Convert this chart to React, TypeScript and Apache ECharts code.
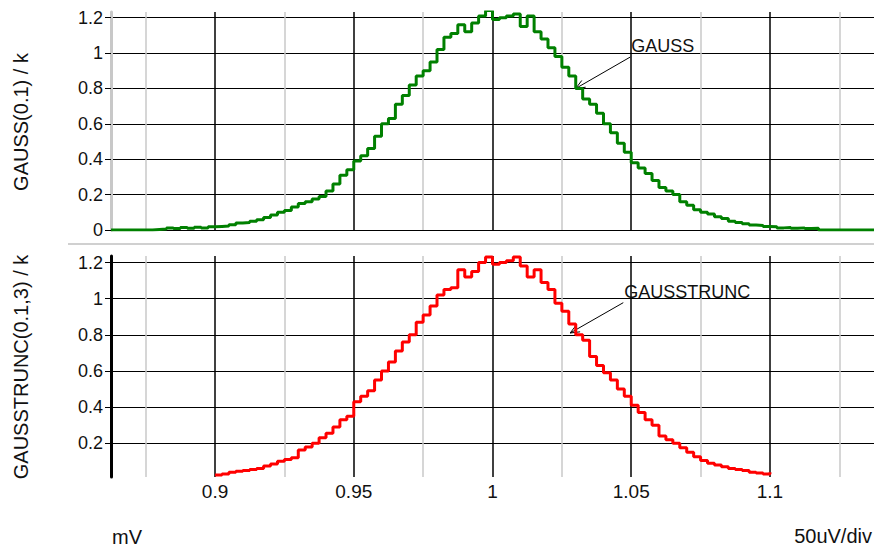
import React, { useEffect, useRef } from "react";
import * as echarts from "echarts";

// Histogram bin left edges (mV)
const binEdges = [
  0.8625, 0.865, 0.8675, 0.87, 0.8725, 0.875, 0.8775, 0.88, 0.8825, 0.885,
  0.8875, 0.89, 0.8925, 0.895, 0.8975, 0.9, 0.9025, 0.905, 0.9075, 0.91,
  0.9125, 0.915, 0.9175, 0.92, 0.9225, 0.925, 0.9275, 0.93, 0.9325, 0.935,
  0.9375, 0.94, 0.9425, 0.945, 0.9475, 0.95, 0.9525, 0.955, 0.9575, 0.96,
  0.9625, 0.965, 0.9675, 0.97, 0.9725, 0.975, 0.9775, 0.98, 0.9825, 0.985,
  0.9875, 0.99, 0.9925, 0.995, 0.9975, 1, 1.0025, 1.005, 1.0075, 1.01,
  1.0125, 1.015, 1.0175, 1.02, 1.0225, 1.025, 1.0275, 1.03, 1.0325, 1.035,
  1.0375, 1.04, 1.0425, 1.045, 1.0475, 1.05, 1.0525, 1.055, 1.0575, 1.06,
  1.0625, 1.065, 1.0675, 1.07, 1.0725, 1.075, 1.0775, 1.08, 1.0825, 1.085,
  1.0875, 1.09, 1.0925, 1.095, 1.0975, 1.1, 1.1025, 1.105, 1.1075, 1.11,
  1.1125, 1.115, 1.1175, 1.12, 1.1225, 1.125, 1.1275, 1.13, 1.1325, 1.135,
  1.1375,
];

// GAUSS(0.1) counts (k)
const gaussCounts = [
  0, 0, 0, 0, 0, 0, 0.003, 0.006, 0.012, 0.008,
  0.014, 0.01, 0.016, 0.012, 0.018, 0.02, 0.022, 0.03, 0.04, 0.042,
  0.05, 0.058, 0.07, 0.085, 0.1, 0.11, 0.13, 0.15, 0.16, 0.175,
  0.19, 0.22, 0.26, 0.31, 0.34, 0.39, 0.42, 0.46, 0.53, 0.6,
  0.63, 0.71, 0.76, 0.82, 0.87, 0.9, 0.95, 1.02, 1.09, 1.11,
  1.16, 1.12, 1.17, 1.21, 1.24, 1.19, 1.2, 1.21, 1.22, 1.15,
  1.21, 1.12, 1.08, 1.03, 0.98, 0.92, 0.87, 0.8, 0.74, 0.71,
  0.66, 0.6, 0.55, 0.49, 0.44, 0.38, 0.35, 0.32, 0.28, 0.24,
  0.22, 0.2, 0.16, 0.14, 0.115, 0.1, 0.09, 0.075, 0.065, 0.05,
  0.042, 0.035, 0.028, 0.025, 0.02, 0.018, 0.012, 0.014, 0.01, 0.012,
  0.008, 0.01, 0, 0, 0, 0, 0, 0, 0, 0,
  0,
];

// GAUSSTRUNC(0.1,3) counts (k), null outside the truncation range
const gaussTruncCounts = [
  null, null, null, null, null, null, null, null, null, null,
  null, null, null, null, null,
  0.025, 0.03, 0.04, 0.045, 0.05, 0.055, 0.06, 0.075, 0.085, 0.1,
  0.11, 0.12, 0.163, 0.18, 0.2, 0.23, 0.255, 0.29, 0.33, 0.35,
  0.43, 0.46, 0.49, 0.55, 0.6, 0.65, 0.71, 0.76, 0.8, 0.87,
  0.91, 0.96, 1.02, 1.05, 1.06, 1.16, 1.12, 1.15, 1.2, 1.23,
  1.19, 1.2, 1.21, 1.23, 1.18, 1.12, 1.16, 1.09, 1.05, 0.975,
  0.93, 0.86, 0.8, 0.77, 0.68, 0.63, 0.59, 0.55, 0.5, 0.46,
  0.41, 0.37, 0.33, 0.3, 0.24, 0.22, 0.2, 0.175, 0.15, 0.125,
  0.105, 0.09, 0.08, 0.07, 0.06, 0.055, 0.05, 0.04, 0.035, 0.03,
  0.04,
  null, null, null, null, null, null, null, null, null, null,
  null, null, null, null, null,
];

const xGridValues = [0.875, 0.9, 0.925, 0.95, 0.975, 1, 1.025, 1.05, 1.075, 1.1, 1.125];
const xLabelValues = [0.9, 0.95, 1, 1.05, 1.1];
const topYTicks = [0, 0.2, 0.4, 0.6, 0.8, 1, 1.2];
const bottomYTicks = [0.2, 0.4, 0.6, 0.8, 1, 1.2];
const topYName = "GAUSS(0.1) / k";
const bottomYName = "GAUSSTRUNC(0.1,3) / k";
const xUnitText = "mV";
const xDivText = "50uV/div";
const annotations = [
  { text: "GAUSS", grid: 0, anchor: [1.05, 1.0], tip: [1.03, 0.8] },
  { text: "GAUSSTRUNC", grid: 1, anchor: [1.0475, 1.0], tip: [1.028, 0.81] },
];

const FONT = "'Liberation Sans', Arial, Helvetica, sans-serif";

export default function App() {
  const ref = useRef<HTMLDivElement>(null);

  useEffect(() => {
    const chart = echarts.init(ref.current as HTMLDivElement, null, { renderer: "svg" });

    const xAxis = (gridIndex: number, showLabels: boolean) => ({
      type: "value",
      gridIndex,
      min: 0.8625,
      max: 1.1375,
      axisLine: { show: false },
      axisTick: { show: false, customValues: xGridValues },
      axisLabel: {
        show: showLabels,
        customValues: xLabelValues,
        color: "#111",
        fontSize: 19,
        fontFamily: FONT,
        margin: 5,
        formatter: (v: number) => String(v),
      },
      splitLine: { show: true, lineStyle: { color: ["#c8c8c8", "#000000"], width: 1.5 } },
    });

    const yAxis = (gridIndex: number, min: number, max: number, ticks: number[], axisColor: string) => ({
      type: "value",
      gridIndex,
      min,
      max,
      axisLine: { show: true, onZero: false, lineStyle: { color: axisColor, width: 3 } },
      axisTick: { show: true, length: 6, customValues: ticks, lineStyle: { color: "#000", width: 1 } },
      axisLabel: {
        customValues: ticks,
        margin: 8,
        fontSize: 18,
        color: "#111",
        fontFamily: FONT,
        formatter: (v: number) => String(v),
      },
      splitLine: { show: true, lineStyle: { color: "#000", width: 1 } },
    });

    const toPairs = (vals: (number | null)[]) =>
      binEdges.map((x, i) => [x, vals[i]]).filter((p) => p[1] !== null);

    chart.setOption({
      animation: false,
      backgroundColor: "#ffffff",
      grid: [
        { left: 111, top: 12, width: 766, height: 218 },
        { left: 111, top: 256, width: 766, height: 221 },
      ],
      xAxis: [xAxis(0, false), xAxis(1, true)],
      yAxis: [
        yAxis(0, 0, 1.232, topYTicks, "#c8c8c8"),
        yAxis(1, 0.0135, 1.236, bottomYTicks, "#000000"),
      ],
      series: [
        {
          type: "line",
          xAxisIndex: 0,
          yAxisIndex: 0,
          step: "end",
          symbol: "none",
          clip: true,
          lineStyle: { color: "#008000", width: 3 },
          data: toPairs(gaussCounts),
        },
        {
          type: "line",
          xAxisIndex: 1,
          yAxisIndex: 1,
          step: "end",
          symbol: "none",
          clip: true,
          lineStyle: { color: "#ff0000", width: 3 },
          data: toPairs(gaussTruncCounts),
        },
      ],
    });

    const elements: any[] = [
      {
        type: "line",
        shape: { x1: 68, y1: 244, x2: 874, y2: 244 },
        style: { stroke: "#d0d0d0", lineWidth: 2 },
      },
      {
        type: "text",
        x: 21,
        y: 122,
        rotation: Math.PI / 2,
        style: {
          text: topYName,
          fill: "#111",
          font: `20px ${FONT}`,
          align: "center",
          verticalAlign: "middle",
          textAlign: "center",
          textVerticalAlign: "middle",
        },
      },
      {
        type: "text",
        x: 21,
        y: 367,
        rotation: Math.PI / 2,
        style: {
          text: bottomYName,
          fill: "#111",
          font: `20px ${FONT}`,
          align: "center",
          verticalAlign: "middle",
          textAlign: "center",
          textVerticalAlign: "middle",
        },
      },
      {
        type: "text",
        x: 112,
        y: 537,
        style: {
          text: xUnitText,
          fill: "#111",
          font: `20px ${FONT}`,
          align: "left",
          verticalAlign: "middle",
          textAlign: "left",
          textVerticalAlign: "middle",
        },
      },
      {
        type: "text",
        x: 872,
        y: 536,
        style: {
          text: xDivText,
          fill: "#111",
          font: `20px ${FONT}`,
          align: "right",
          verticalAlign: "middle",
          textAlign: "right",
          textVerticalAlign: "middle",
        },
      },
    ];

    annotations.forEach((a) => {
      const p = chart.convertToPixel({ gridIndex: a.grid } as any, a.anchor) as number[];
      const t = chart.convertToPixel({ gridIndex: a.grid } as any, a.tip) as number[];
      if (!p || !t) return;
      const sx = p[0] - 1;
      const sy = p[1] + 4;
      elements.push({
        type: "text",
        x: p[0],
        y: p[1] - 7,
        style: {
          text: a.text,
          fill: "#111",
          font: `18px ${FONT}`,
          align: "left",
          verticalAlign: "middle",
          textAlign: "left",
          textVerticalAlign: "middle",
        },
      });
      elements.push({
        type: "line",
        shape: { x1: sx, y1: sy, x2: t[0], y2: t[1] },
        style: { stroke: "#000", lineWidth: 1 },
      });
      const ang = Math.atan2(sy - t[1], sx - t[0]);
      const L = 10;
      const d = 0.4;
      elements.push({
        type: "polyline",
        shape: {
          points: [
            [t[0] + L * Math.cos(ang + d), t[1] + L * Math.sin(ang + d)],
            [t[0], t[1]],
            [t[0] + L * Math.cos(ang - d), t[1] + L * Math.sin(ang - d)],
          ],
        },
        style: { stroke: "#000", lineWidth: 1, fill: null },
      });
    });

    chart.setOption({ graphic: { elements } });

    return () => {
      chart.dispose();
    };
  }, []);

  return (
    <div
      ref={ref}
      style={{ position: "fixed", left: 0, top: 0, width: 874, height: 554, background: "#ffffff" }}
    />
  );
}
